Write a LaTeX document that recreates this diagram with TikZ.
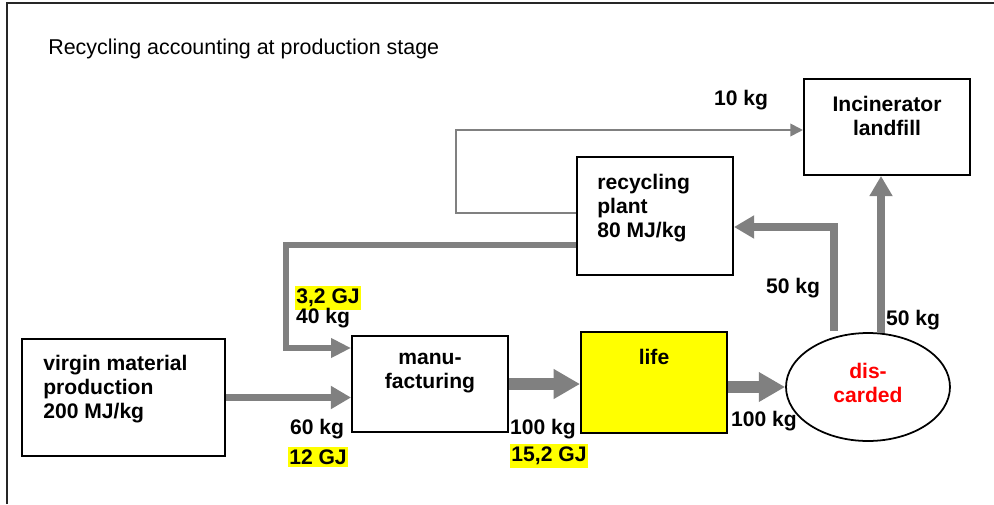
\documentclass[tikz,border=0pt]{standalone}
\usepackage{fontspec}
\setmainfont{Liberation Sans}
\usepackage{xcolor}
\usetikzlibrary{arrows.meta,calc,shapes.geometric}
\definecolor{flowgray}{RGB}{128,128,128}
\definecolor{hiyellow}{RGB}{255,255,0}

\begin{document}
\begin{tikzpicture}[x=0.02cm, y=-0.02cm, >=Latex,
  box/.style={draw, line width=1.1pt, inner sep=0pt},
  boxtext/.style={font=\bfseries\fontsize{12}{13.6}\selectfont, inner sep=0pt},
  qty/.style={font=\bfseries\fontsize{12}{14}\selectfont, inner sep=0.6pt},
  energy/.style={qty, fill=hiyellow, inner ysep=1.6pt},
  flow/.style={draw=flowgray, line width=4.3pt, -{Triangle[length=11.5pt, width=12.5pt]}},
  bigflow/.style={draw=flowgray, line width=6.5pt, -{Triangle[length=15pt, width=16pt]}},
  midflow/.style={draw=flowgray, line width=3.1pt, -{Triangle[length=11.3pt, width=10.5pt]}},
  thinflow/.style={draw=flowgray, line width=1.5pt, -{Triangle[length=7.2pt, width=7pt]}}]
  \useasboundingbox (0,0) rectangle (994,504);
  % frame (top and left edge only)
  \draw[line width=1.2pt, black!85] (7,504) -- (7,3) -- (994,3);
  \node[anchor=west, font=\fontsize{12.2}{14}\selectfont, inner sep=0pt] (title) at (48,49)
    {Recycling accounting at production stage};
  % stages
  \node[box, minimum width=4.06cm, minimum height=2.34cm] (virgin) at (123.5,397.5) {};
  \node[box, minimum width=3.12cm, minimum height=1.92cm] (manu) at (430,384) {};
  \node[box, fill=hiyellow, minimum width=2.92cm, minimum height=2.02cm] (life) at (654,382.5) {};
  \node[box, ellipse, line width=1pt, minimum width=3.28cm, minimum height=2.16cm] (disc) at (868,387) {};
  \node[box, minimum width=3.12cm, minimum height=2.36cm] (recyc) at (655,216) {};
  \node[box, minimum width=3.32cm, minimum height=1.92cm] (incin) at (887,127) {};
  \node[boxtext, anchor=west, align=left] (virgintxt) at (43,389) {virgin material\\production\\200 MJ/kg};
  \node[boxtext, align=center] (manutxt) at (430,373) {manu-\\facturing};
  \node[boxtext] (lifetxt) at (654,357) {life};
  \node[boxtext, text=red, align=center] (disctxt) at (868,383) {dis-\\carded};
  \node[boxtext, anchor=west, align=left] (recyctxt) at (597,208) {recycling\\plant\\80 MJ/kg};
  \node[boxtext, align=center] (incintxt) at (887,116) {Incinerator\\landfill};
  % main material flow
  \draw[flow] (virgin.east) -- (virgin.east -| manu.west);
  \draw[bigflow] (manu.east) -- (manu.east -| life.west);
  \draw[bigflow] (disc.west -| life.east) -- (disc.west);
  % after discarding
  \coordinate (d1) at (834,331);
  \coordinate (d2) at (881,333);
  \draw[flow] (d1) |- ($(recyc.east)+(0,11)$);
  \draw[flow] (d2) -- (d2 |- incin.south);
  % recycled material and losses
  \coordinate (r40) at (286,348);
  \coordinate (r10) at (456,130);
  \draw[midflow] ($(recyc.west)+(0,29)$) -| (r40) -- (r40 -| manu.west);
  \draw[thinflow] ($(recyc.west)+(0,-3)$) -| (r10) -- (r10 -| incin.west);
  % amounts
  \node[qty] (m10) at (741,100) {10 kg};
  \node[qty] (m50r) at (793,288) {50 kg};
  \node[qty] (m50i) at (913,320) {50 kg};
  \node[energy] (e40) at (328,298) {3,2 GJ};
  \node[qty] (m40) at (323,318) {40 kg};
  \node[qty] (m60) at (317,429) {60 kg};
  \node[energy] (e60) at (318,457) {12 GJ};
  \node[qty] (m100) at (543,429) {100 kg};
  \node[energy] (e100) at (549,456) {15,2 GJ};
  \node[qty] (m100d) at (764,421) {100 kg};
\end{tikzpicture}
\end{document}
